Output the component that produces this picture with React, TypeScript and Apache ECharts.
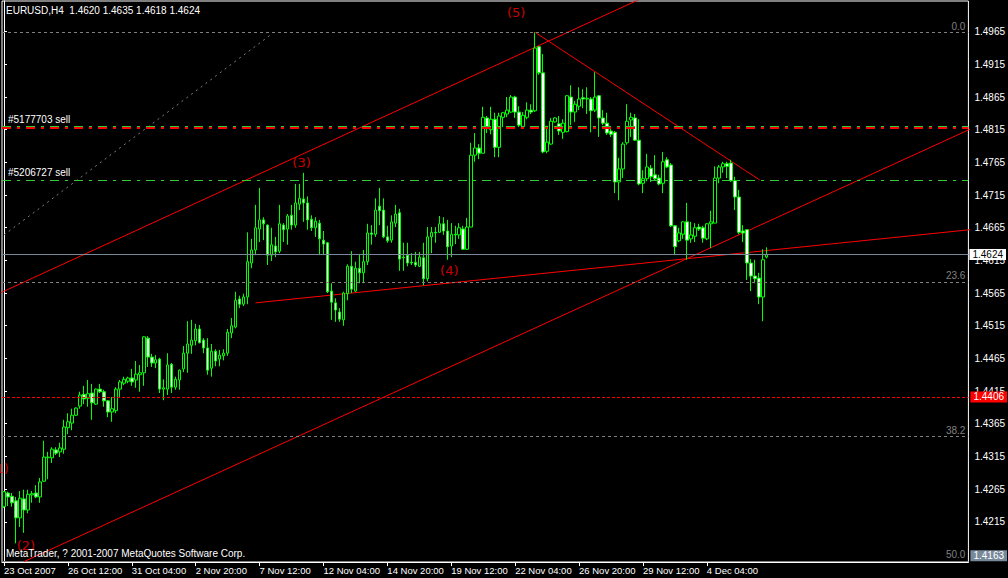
import React, { useEffect, useRef } from 'react';
import * as echarts from 'echarts';

// ---------- data ----------
const N_BARS = 242; // visible bar slots (incl. empty right shift)
const BAR_STEP = 16; // bars between time labels
const dateTicks = ['23 Oct 2007', '26 Oct 12:00', '31 Oct 04:00', '2 Nov 20:00', '7 Nov 12:00', '12 Nov 04:00',
  '14 Nov 20:00', '19 Nov 12:00', '22 Nov 04:00', '26 Nov 20:00', '29 Nov 12:00', '4 Dec 04:00'];

const opens = [
  1.4238, 1.4259, 1.4254, 1.4247, 1.4221, 1.4250, 1.4233, 1.4256, 1.4259, 1.4253,
  1.4277, 1.4313, 1.4313, 1.4325, 1.4322, 1.4326, 1.4359, 1.4366, 1.4378, 1.4392,
  1.4410, 1.4404, 1.4412, 1.4395, 1.4418, 1.4414, 1.4400, 1.4383, 1.4385, 1.4418,
  1.4427, 1.4430, 1.4435, 1.4432, 1.4440, 1.4443, 1.4496, 1.4467, 1.4458, 1.4464,
  1.4418, 1.4418, 1.4456, 1.4421, 1.4432, 1.4449, 1.4473, 1.4485, 1.4492, 1.4510,
  1.4493, 1.4481, 1.4450, 1.4476, 1.4464, 1.4469, 1.4473, 1.4504, 1.4513, 1.4556,
  1.4548, 1.4559, 1.4611, 1.4631, 1.4663, 1.4677, 1.4669, 1.4623, 1.4637, 1.4629,
  1.4669, 1.4663, 1.4684, 1.4669, 1.4701, 1.4709, 1.4703, 1.4678, 1.4665, 1.4672,
  1.4646, 1.4642, 1.4568, 1.4550, 1.4536, 1.4524, 1.4564, 1.4606, 1.4568, 1.4603,
  1.4596, 1.4613, 1.4657, 1.4655, 1.4698, 1.4692, 1.4651, 1.4646, 1.4672, 1.4688,
  1.4620, 1.4623, 1.4612, 1.4612, 1.4606, 1.4619, 1.4587, 1.4651, 1.4658, 1.4658,
  1.4671, 1.4660, 1.4637, 1.4655, 1.4654, 1.4663, 1.4632, 1.4666, 1.4776, 1.4787,
  1.4779, 1.4833, 1.4815, 1.4831, 1.4788, 1.4834, 1.4839, 1.4842, 1.4865, 1.4842,
  1.4820, 1.4834, 1.4845, 1.4844, 1.4942, 1.4902, 1.4782, 1.4793, 1.4827, 1.4824,
  1.4811, 1.4812, 1.4865, 1.4842, 1.4851, 1.4864, 1.4862, 1.4862, 1.4845, 1.4867,
  1.4833, 1.4825, 1.4813, 1.4811, 1.4735, 1.4755, 1.4795, 1.4830, 1.4833, 1.4799,
  1.4733, 1.4740, 1.4756, 1.4746, 1.4741, 1.4733, 1.4769, 1.4761, 1.4668, 1.4645,
  1.4655, 1.4674, 1.4648, 1.4652, 1.4666, 1.4665, 1.4648, 1.4671, 1.4672, 1.4741,
  1.4758, 1.4763, 1.4764, 1.4737, 1.4712, 1.4660, 1.4662, 1.4611, 1.4591, 1.4588,
  1.4559, 1.4620,
];
const highs = [
  1.4262, 1.4261, 1.4259, 1.4253, 1.4262, 1.4264, 1.4264, 1.4262, 1.4271, 1.4282,
  1.4339, 1.4322, 1.4329, 1.4329, 1.4336, 1.4371, 1.4381, 1.4388, 1.4390, 1.4414,
  1.4423, 1.4432, 1.4426, 1.4419, 1.4426, 1.4417, 1.4401, 1.4406, 1.4421, 1.4432,
  1.4437, 1.4437, 1.4449, 1.4461, 1.4455, 1.4499, 1.4499, 1.4472, 1.4470, 1.4466,
  1.4433, 1.4473, 1.4458, 1.4437, 1.4448, 1.4484, 1.4522, 1.4524, 1.4518, 1.4516,
  1.4496, 1.4496, 1.4487, 1.4479, 1.4478, 1.4479, 1.4510, 1.4527, 1.4567, 1.4561,
  1.4564, 1.4658, 1.4648, 1.4700, 1.4726, 1.4681, 1.4670, 1.4665, 1.4651, 1.4700,
  1.4672, 1.4686, 1.4700, 1.4732, 1.4732, 1.4749, 1.4713, 1.4684, 1.4681, 1.4677,
  1.4660, 1.4643, 1.4580, 1.4557, 1.4542, 1.4567, 1.4609, 1.4629, 1.4613, 1.4625,
  1.4631, 1.4671, 1.4669, 1.4710, 1.4726, 1.4710, 1.4668, 1.4684, 1.4700, 1.4694,
  1.4642, 1.4642, 1.4626, 1.4628, 1.4628, 1.4642, 1.4666, 1.4666, 1.4666, 1.4683,
  1.4681, 1.4677, 1.4672, 1.4668, 1.4672, 1.4668, 1.4680, 1.4795, 1.4810, 1.4793,
  1.4850, 1.4836, 1.4850, 1.4841, 1.4841, 1.4842, 1.4865, 1.4868, 1.4867, 1.4851,
  1.4842, 1.4857, 1.4854, 1.4964, 1.4943, 1.4931, 1.4821, 1.4833, 1.4834, 1.4836,
  1.4831, 1.4868, 1.4883, 1.4859, 1.4880, 1.4877, 1.4880, 1.4865, 1.4903, 1.4868,
  1.4845, 1.4841, 1.4819, 1.4813, 1.4772, 1.4796, 1.4854, 1.4841, 1.4839, 1.4831,
  1.4753, 1.4778, 1.4761, 1.4776, 1.4746, 1.4781, 1.4773, 1.4764, 1.4669, 1.4665,
  1.4675, 1.4703, 1.4674, 1.4672, 1.4671, 1.4668, 1.4672, 1.4691, 1.4759, 1.4761,
  1.4766, 1.4766, 1.4769, 1.4743, 1.4723, 1.4669, 1.4663, 1.4617, 1.4616, 1.4596,
  1.4632, 1.4635,
];
const lows = [
  1.4236, 1.4239, 1.4238, 1.4182, 1.4207, 1.4198, 1.4228, 1.4244, 1.4251, 1.4244,
  1.4276, 1.4280, 1.4305, 1.4317, 1.4314, 1.4319, 1.4349, 1.4355, 1.4377, 1.4388,
  1.4395, 1.4391, 1.4371, 1.4394, 1.4412, 1.4391, 1.4375, 1.4368, 1.4381, 1.4406,
  1.4424, 1.4427, 1.4423, 1.4420, 1.4414, 1.4423, 1.4452, 1.4452, 1.4450, 1.4412,
  1.4401, 1.4409, 1.4412, 1.4417, 1.4417, 1.4444, 1.4443, 1.4472, 1.4485, 1.4488,
  1.4473, 1.4440, 1.4437, 1.4453, 1.4453, 1.4462, 1.4469, 1.4496, 1.4511, 1.4542,
  1.4545, 1.4548, 1.4603, 1.4623, 1.4643, 1.4646, 1.4608, 1.4614, 1.4620, 1.4626,
  1.4643, 1.4639, 1.4662, 1.4665, 1.4692, 1.4674, 1.4662, 1.4660, 1.4651, 1.4623,
  1.4623, 1.4565, 1.4524, 1.4521, 1.4521, 1.4515, 1.4554, 1.4565, 1.4567, 1.4580,
  1.4580, 1.4608, 1.4639, 1.4651, 1.4669, 1.4649, 1.4642, 1.4642, 1.4666, 1.4599,
  1.4599, 1.4606, 1.4608, 1.4605, 1.4605, 1.4577, 1.4583, 1.4626, 1.4642, 1.4657,
  1.4654, 1.4616, 1.4620, 1.4640, 1.4648, 1.4631, 1.4631, 1.4666, 1.4766, 1.4770,
  1.4779, 1.4810, 1.4808, 1.4773, 1.4773, 1.4819, 1.4834, 1.4841, 1.4833, 1.4819,
  1.4818, 1.4831, 1.4839, 1.4842, 1.4899, 1.4779, 1.4779, 1.4792, 1.4826, 1.4807,
  1.4801, 1.4811, 1.4822, 1.4827, 1.4845, 1.4848, 1.4839, 1.4811, 1.4842, 1.4804,
  1.4822, 1.4807, 1.4804, 1.4718, 1.4707, 1.4741, 1.4792, 1.4804, 1.4798, 1.4730,
  1.4718, 1.4736, 1.4735, 1.4738, 1.4730, 1.4718, 1.4756, 1.4666, 1.4623, 1.4643,
  1.4648, 1.4616, 1.4642, 1.4643, 1.4660, 1.4642, 1.4646, 1.4634, 1.4672, 1.4733,
  1.4749, 1.4741, 1.4735, 1.4692, 1.4655, 1.4643, 1.4585, 1.4568, 1.4580, 1.4548,
  1.4522, 1.4618,
];
const closes = [
  1.4261, 1.4253, 1.4244, 1.4221, 1.4251, 1.4233, 1.4257, 1.4258, 1.4253, 1.4276,
  1.4314, 1.4314, 1.4326, 1.4320, 1.4328, 1.4360, 1.4368, 1.4378, 1.4389, 1.4409,
  1.4403, 1.4411, 1.4397, 1.4418, 1.4414, 1.4400, 1.4383, 1.4388, 1.4418, 1.4429,
  1.4433, 1.4435, 1.4429, 1.4441, 1.4443, 1.4498, 1.4467, 1.4458, 1.4463, 1.4418,
  1.4420, 1.4455, 1.4421, 1.4433, 1.4447, 1.4473, 1.4487, 1.4493, 1.4510, 1.4489,
  1.4481, 1.4447, 1.4476, 1.4461, 1.4470, 1.4473, 1.4505, 1.4515, 1.4554, 1.4548,
  1.4559, 1.4613, 1.4631, 1.4665, 1.4677, 1.4671, 1.4623, 1.4639, 1.4628, 1.4671,
  1.4662, 1.4683, 1.4669, 1.4703, 1.4710, 1.4703, 1.4677, 1.4665, 1.4675, 1.4648,
  1.4640, 1.4567, 1.4551, 1.4539, 1.4525, 1.4565, 1.4606, 1.4571, 1.4603, 1.4596,
  1.4613, 1.4657, 1.4655, 1.4692, 1.4691, 1.4651, 1.4645, 1.4674, 1.4686, 1.4617,
  1.4619, 1.4611, 1.4611, 1.4608, 1.4620, 1.4587, 1.4651, 1.4658, 1.4657, 1.4671,
  1.4660, 1.4636, 1.4655, 1.4654, 1.4665, 1.4632, 1.4666, 1.4776, 1.4787, 1.4779,
  1.4834, 1.4819, 1.4831, 1.4788, 1.4836, 1.4841, 1.4845, 1.4865, 1.4842, 1.4822,
  1.4837, 1.4845, 1.4842, 1.4940, 1.4902, 1.4781, 1.4796, 1.4828, 1.4833, 1.4813,
  1.4825, 1.4867, 1.4842, 1.4854, 1.4862, 1.4862, 1.4863, 1.4844, 1.4865, 1.4833,
  1.4825, 1.4810, 1.4808, 1.4735, 1.4755, 1.4793, 1.4828, 1.4834, 1.4799, 1.4732,
  1.4740, 1.4758, 1.4743, 1.4740, 1.4732, 1.4766, 1.4758, 1.4668, 1.4636, 1.4657,
  1.4674, 1.4646, 1.4654, 1.4665, 1.4663, 1.4649, 1.4671, 1.4674, 1.4741, 1.4758,
  1.4763, 1.4759, 1.4737, 1.4712, 1.4658, 1.4657, 1.4611, 1.4591, 1.4587, 1.4559,
  1.4616, 1.4624,
];

const priceTicks = [1.4215, 1.4265, 1.4315, 1.4365, 1.4415, 1.4465, 1.4515, 1.4565,
  1.4615, 1.4665, 1.4715, 1.4765, 1.4815, 1.4865, 1.4915, 1.4965];
const Y_MIN = 1.41534;
const Y_MAX = 1.5012;

const fibLevels = ['0.0', '23.6', '38.2', '50.0'];
const fibPrices = [1.4964, 1.4582, 1.4346, 1.4155];

const orderNames = ['#5177703 sell', '#5206727 sell'];
const orderPrices = [1.4818, 1.4738];

const bidPrice = 1.4624;
const alertPrice = 1.4406;
const bottomBoxPrice = 1.4163;

// trend lines: [barIndex, price] anchor pairs
const upperChannel = [[-1, 1.4565], [160, 1.5017]];
const lowerChannel = [[5, 1.4154], [242, 1.4816]];
const waveFourLine = [[63, 1.455], [242, 1.4662]];
const waveFiveLine = [[133, 1.4964], [189.25, 1.4738]];
const fibDiagonal = [[0, 1.4654], [66.5, 1.4959]];

const waveLabels = ['(1)', '(2)', '(3)', '(4)', '(5)'];
const waveBars = [-1.1, 5.5, 74.5, 111.5, 128.25];
const wavePrices = [1.4297, 1.4179, 1.4765, 1.46, 1.4995];

const titleText = 'EURUSD,H4  1.4620 1.4635 1.4618 1.4624';
const footerText = 'MetaTrader, ? 2001-2007 MetaQuotes Software Corp.';

export default function App() {
  const ref = useRef<HTMLDivElement>(null);
  useEffect(() => {
    if (!ref.current) return;
    const chart = echarts.init(ref.current, null, { renderer: 'svg' });
    const font = 'Liberation Sans';
    const categories = Array.from({ length: N_BARS }, (_, i) => String(i));
    const isDateTick = (i: number) => i % BAR_STEP === 0 && i / BAR_STEP < dateTicks.length;
    const candleData = opens.map((o, i) => [o, closes[i], lows[i], highs[i]]);

    const trend = (pts: number[][], color: string, type: any) => ({
      type: 'line', xAxisIndex: 1, yAxisIndex: 0, data: pts, symbol: 'none', showSymbol: false,
      clip: true, silent: true, z: 1, lineStyle: { color, width: 1, type },
    });

    const noLabel = { show: false };
    const mlData: any[] = [];
    fibLevels.forEach((lv, k) => {
      mlData.push({
        yAxis: fibPrices[k], lineStyle: { color: '#808080', width: 1, type: [3, 3] },
        label: { show: true, position: 'insideEndTop', formatter: lv, color: '#808080', fontSize: 10, fontFamily: font, distance: [3, 1] },
      });
    });
    // order lines: red line with green top edge, and green line
    mlData.push({ yAxis: orderPrices[0], lineStyle: { color: '#ff0000', width: 2, type: [9, 6, 3, 6] }, label: noLabel });
    mlData.push({
      yAxis: orderPrices[0] + 0.00016, lineStyle: { color: '#32cd32', width: 1, type: [9, 6, 3, 6] },
      label: { show: true, position: 'insideStartTop', formatter: orderNames[0], color: '#fff', fontSize: 10, fontFamily: font, distance: [6, 2] },
    });
    mlData.push({
      yAxis: orderPrices[1], lineStyle: { color: '#32cd32', width: 1, type: [9, 6, 3, 6] },
      label: { show: true, position: 'insideStartTop', formatter: orderNames[1], color: '#fff', fontSize: 10, fontFamily: font, distance: [6, 3] },
    });
    mlData.push({
      yAxis: bidPrice, lineStyle: { color: '#778899', width: 1, type: 'solid' },
      label: { show: true, position: 'end', formatter: bidPrice.toFixed(4), color: '#000', backgroundColor: '#fff', padding: [1, 3, 0, 3], fontSize: 10, fontFamily: font, distance: 1 },
    });
    mlData.push({
      yAxis: alertPrice, lineStyle: { color: '#ff0000', width: 1, type: [3, 2] },
      label: { show: true, position: 'end', formatter: alertPrice.toFixed(4), color: '#fff', backgroundColor: '#ff0000', padding: [1, 3, 0, 3], fontSize: 10, fontFamily: font, distance: 2 },
    });
    mlData.push({
      yAxis: bottomBoxPrice, lineStyle: { color: 'rgba(0,0,0,0)', width: 1 },
      label: { show: true, position: 'end', formatter: bottomBoxPrice.toFixed(4), color: '#fff', backgroundColor: '#778899', padding: [1, 3, 0, 3], fontSize: 10, fontFamily: font, distance: 2 },
    });

    chart.setOption({
      animation: false,
      backgroundColor: '#000',
      grid: { left: 2, right: 38, top: 1, bottom: 16, show: true, borderColor: '#fff', borderWidth: 1, backgroundColor: 'transparent' },
      xAxis: [
        {
          type: 'category', data: categories, boundaryGap: true, position: 'bottom',
          axisLine: { show: true, lineStyle: { color: '#fff' } },
          axisTick: { show: true, alignWithLabel: true, interval: (i: number) => isDateTick(i), length: 4, lineStyle: { color: '#fff' } },
          axisLabel: {
            show: true, interval: (i: number) => isDateTick(i),
            formatter: (v: string) => { const i = Number(v); return isDateTick(i) ? dateTicks[i / BAR_STEP] : ''; },
            color: '#fff', fontSize: 9.5, fontFamily: font, align: 'left', margin: 3,
          },
          splitLine: { show: false },
        },
        { type: 'value', min: -0.5, max: N_BARS - 0.5, show: false },
      ],
      yAxis: {
        type: 'value', position: 'right', min: Y_MIN, max: Y_MAX,
        splitLine: { show: false },
        axisLine: { show: true, lineStyle: { color: '#fff' } },
        axisTick: { show: true, length: 3, lineStyle: { color: '#fff' }, customValues: priceTicks },
        axisLabel: { color: '#fff', fontSize: 10, fontFamily: font, margin: 6, customValues: priceTicks, formatter: (v: number) => v.toFixed(4) },
      },
      graphic: [
        { type: 'text', left: 6, top: 5, z: 100, style: { text: titleText, fill: '#fff', font: `10px "${font}"` } },
        { type: 'text', left: 6, top: 548, z: 100, style: { text: footerText, fill: '#fff', font: `10px "${font}"` } },
      ],
      series: [
        trend(fibDiagonal, '#808080', [2, 4]),
        trend(upperChannel, '#ff0000', 'solid'),
        trend(lowerChannel, '#ff0000', 'solid'),
        trend(waveFourLine, '#ff0000', 'solid'),
        trend(waveFiveLine, '#ff0000', 'solid'),
        {
          type: 'candlestick', xAxisIndex: 0, yAxisIndex: 0, data: candleData, barWidth: 3, z: 3,
          itemStyle: { color: '#000', color0: '#fff', borderColor: '#00ff00', borderColor0: '#00ff00', borderWidth: 1 },
          markLine: { symbol: ['none', 'none'], silent: true, animation: false, precision: 6, data: mlData },
        },
        {
          type: 'scatter', xAxisIndex: 1, yAxisIndex: 0, clip: false, silent: true, z: 4,
          symbolSize: 1, itemStyle: { color: 'rgba(0,0,0,0)' },
          data: waveLabels.map((t, k) => ({ value: [waveBars[k], wavePrices[k]], name: t })),
          label: {
            show: true, position: 'inside', formatter: (p: any) => p.name,
            fontSize: 13, fontFamily: 'DejaVu Sans', fontWeight: 'normal', color: '#ff0000',
          },
        },
      ],
    });
    return () => chart.dispose();
  }, []);
  return <div ref={ref} style={{ position: 'fixed', left: 0, top: 0, width: 1008, height: 578, background: '#000' }} />;
}
